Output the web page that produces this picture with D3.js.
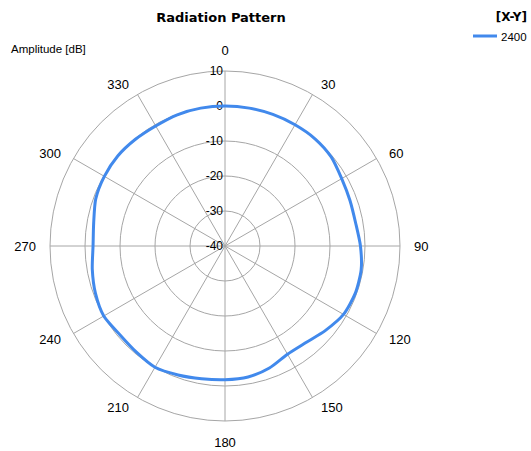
<!DOCTYPE html>
<html><head><meta charset="utf-8">
<script src="https://cdn.jsdelivr.net/npm/d3@7"></script>
<style>
html,body{margin:0;padding:0;background:#fff;}
svg{display:block;}
text{font-family:"Liberation Sans",Arial,sans-serif;fill:#000;}
</style></head>
<body>
<svg id="chart" width="531" height="451"></svg>
<script>
// Data
const angles = [0,10,20,30,40,50,60,70,80,90,100,110,120,130,140,150,160,170,180,190,200,210,220,230,240,250,260,270,280,290,300,310,320,330,340,350];
const amplitude2400 = [0,0,0,0,0,-0.4,-1.5,-2.0,-2.1,-1.3,-0.5,-0.4,-0.9,-2.5,-4.0,-4.3,-2.9,-2.0,-1.8,-1.5,-0.8,0,-0.5,-0.7,0,-0.6,-1.5,-2.3,-1.9,-0.7,-0.2,0,-0.2,-0.4,-0.1,0];
const radialTicks = [-40,-30,-20,-10,0,10];
const angleTicks = [0,30,60,90,120,150,180,210,240,270,300,330];
const seriesName = "2400";
const title = "Radiation Pattern";
const axisTitle = "Amplitude [dB]";
const legendTitle = "[X-Y]";

const svg = d3.select("#chart");
const cx = 225, cy = 246, R = 175;
const r = d3.scaleLinear().domain([-40,10]).range([0,R]);
const a = d3.scaleLinear().domain([0,360]).range([0,2*Math.PI]);
const g = svg.append("g").attr("transform",`translate(${cx},${cy})`);
const gridColor = "#a6a6a6";

// rings
g.selectAll("circle.ring").data(radialTicks.filter(d=>d>-40)).join("circle")
  .attr("r",d=>r(d)).attr("fill","none").attr("stroke",gridColor).attr("stroke-width",1);
// spokes
g.selectAll("line.spoke").data(angleTicks).join("line")
  .attr("x1",0).attr("y1",0)
  .attr("x2",d=>R*Math.sin(a(d))).attr("y2",d=>-R*Math.cos(a(d)))
  .attr("stroke",gridColor).attr("stroke-width",1);

// angle labels
const labelR = R + 11;
g.selectAll("text.ang").data(angleTicks).join("text")
  .attr("font-size",13)
  .attr("text-anchor","middle").attr("dominant-baseline","central")
  .text(d=>d)
  .each(function(d){
    const s = Math.sin(a(d)), c = Math.cos(a(d));
    const w = this.getComputedTextLength();
    const sx = Math.abs(s) < 1e-6 ? 0 : Math.sign(s);
    const sy = Math.abs(s) < 1e-6 ? Math.sign(c) : 0;
    d3.select(this)
      .attr("x", labelR*s + sx*(w/2+3))
      .attr("y", -labelR*c - sy*10);
  });

// radial tick labels
g.selectAll("text.rt").data(radialTicks).join("text")
  .attr("font-size",12).attr("text-anchor","end").attr("dominant-baseline","central")
  .attr("x",-2).attr("y",d=>-r(d)).text(d=>d);

// data line
const line = d3.lineRadial()
  .angle((d,i)=>a(angles[i]))
  .radius(d=>r(d))
  .curve(d3.curveCardinalClosed.tension(0.3));
g.append("path").datum(amplitude2400)
  .attr("d",line).attr("fill","none").attr("stroke","#4189ec").attr("stroke-width",3)
  .attr("stroke-linejoin","round");

// titles
svg.append("text").attr("x",221).attr("y",22).attr("text-anchor","middle")
  .style("font-family","'DejaVu Sans'")
  .attr("font-weight","bold").attr("font-size",13).text(title);
svg.append("text").attr("x",11).attr("y",53).attr("font-size",11.5).text(axisTitle);

// legend
svg.append("text").attr("x",527).attr("y",21).attr("text-anchor","end")
  .style("font-family","'DejaVu Sans'").attr("font-weight","bold").attr("font-size",12).text(legendTitle);
svg.append("line").attr("x1",473).attr("x2",497).attr("y1",36).attr("y2",36)
  .attr("stroke","#4189ec").attr("stroke-width",3);
svg.append("text").attr("x",501).attr("y",40.5).attr("font-size",11.5).text(seriesName);
</script>
</body></html>
